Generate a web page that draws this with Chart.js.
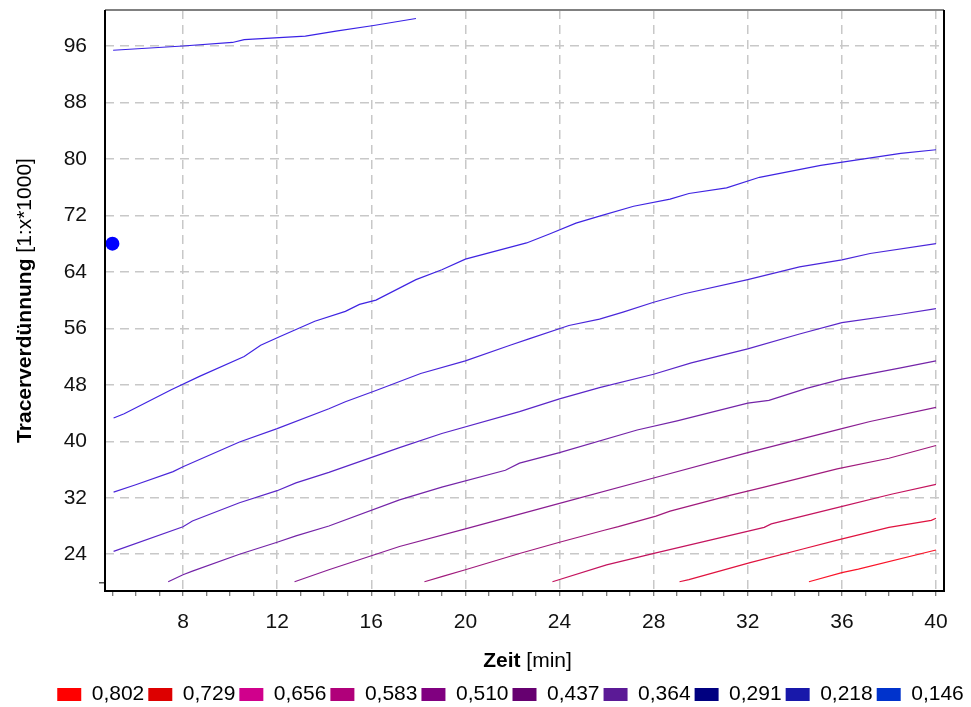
<!DOCTYPE html>
<html>
<head>
<meta charset="utf-8">
<script src="https://cdn.jsdelivr.net/npm/chart.js@4/dist/chart.umd.min.js"></script>
<style>
  body { margin: 0; background: #fff; }
  #wrap { width: 971px; height: 707px; }
</style>
</head>
<body>
<div id="wrap"><canvas id="chart" width="971" height="707"></canvas></div>
<script>
// Linien (Zeit [min], Tracerverdünnung), von oben nach unten
const linie1 = [[5.03, 95.4], [8, 96.0], [10.1, 96.5], [10.6, 96.9], [13.2, 97.4], [14.5, 98.1], [16.1, 98.9], [17.9, 99.9]];
const linie2 = [[5.05, 43.3], [5.5, 43.9], [6.5, 45.6], [7.5, 47.3], [8.7, 49.2], [10.6, 52.0], [11.3, 53.6], [12.1, 54.8], [13.6, 57.0], [14.9, 58.4], [15.5, 59.4], [16.2, 60.0], [17.9, 62.9], [19, 64.3], [20, 65.8], [22.6, 68.1], [23.6, 69.4], [24.7, 70.9], [25.7, 71.9], [27.15, 73.3], [28.7, 74.3], [29.5, 75.1], [31.1, 75.9], [32.5, 77.4], [35.1, 79.1], [38.5, 80.8], [40, 81.3]];
const linie3 = [[5.05, 32.8], [5.96, 33.8], [7.58, 35.7], [8, 36.4], [10.4, 39.9], [12, 41.8], [14.2, 44.6], [14.9, 45.6], [16.2, 47.2], [18.1, 49.6], [20, 51.4], [21.9, 53.6], [22.7, 54.5], [24.4, 56.4], [25.7, 57.3], [26.7, 58.3], [28, 59.7], [29.3, 60.9], [32, 62.9], [34.2, 64.7], [36, 65.7], [37.2, 66.6], [40, 68.0]];
const linie4 = [[5.05, 24.4], [8, 27.9], [8.4, 28.7], [10.4, 31.3], [12, 33.0], [12.8, 34.1], [14.2, 35.6], [17.2, 39.1], [19.0, 41.1], [22.3, 44.2], [24.0, 46.0], [25.7, 47.6], [28, 49.5], [29.6, 51.1], [32, 53.1], [34.2, 55.2], [36, 56.8], [38.5, 58.0], [40, 58.8]];
const linie5 = [[7.37, 20.1], [8, 21.1], [8.4, 21.6], [10.4, 24.0], [12, 25.7], [12.8, 26.6], [14.2, 28.0], [17.2, 31.7], [19.0, 33.5], [21.7, 35.9], [22.3, 36.9], [24.0, 38.4], [27.3, 41.6], [29.0, 42.9], [32, 45.4], [32.9, 45.8], [34.5, 47.5], [36, 48.8], [38.5, 50.4], [40, 51.4]];
const linie6 = [[12.74, 20.1], [14.2, 21.8], [17.2, 25.1], [20, 27.6], [24, 31.2], [28, 34.8], [32, 38.4], [36, 41.8], [37.2, 42.8], [40, 44.8]];
const linie7 = [[18.26, 20.1], [19.07, 20.9], [20, 21.8], [22.3, 24.1], [24, 25.7], [25.9, 27.4], [26.5, 27.9], [28.1, 29.4], [28.7, 30.1], [31.2, 32.3], [32.7, 33.5], [35.8, 36.1], [38, 37.6], [40, 39.4]];
const linie8 = [[23.7, 20.1], [26, 22.5], [27.75, 23.9], [28.1, 24.2], [30.4, 26.0], [32.7, 27.8], [33, 28.3], [35.8, 30.6], [38.1, 32.5], [40, 33.9]];
const linie9 = [[29.1, 20.1], [29.5, 20.4], [32.1, 22.8], [34.3, 24.7], [35.8, 26.0], [38, 27.8], [39.8, 28.8], [40, 29.1]];
const linie10 = [[34.6, 20.1], [36, 21.4], [36.7, 21.9], [40, 24.6]];
const messpunkt = [[5.0, 68.0]];

const linien = [linie1, linie2, linie3, linie4, linie5, linie6, linie7, linie8, linie9, linie10];
const linienFarben = ["#3a22e6", "#3f24e2", "#4a26da", "#5a26c8", "#7424a8", "#8a1e92", "#a01a7c", "#c4145e", "#e0123e", "#fa1428"];

// Legende
const legendeWerte = ["0,802", "0,729", "0,656", "0,583", "0,510", "0,437", "0,364", "0,291", "0,218", "0,146"];
const legendeFarben = ["#ff0000", "#dd0000", "#d0008c", "#b0007a", "#800080", "#660070", "#5b1a96", "#000080", "#1818aa", "#0033cc"];

// Achsen
const xTicks = [5, 6, 7, 8, 9, 10, 11, 12, 13, 14, 15, 16, 17, 18, 19, 20, 21, 22, 23, 24, 25, 26, 27, 28, 29, 30, 31, 32, 33, 34, 35, 36, 37, 38, 39, 40];
const yTicks = [20, 24, 32, 40, 48, 56, 64, 72, 80, 88, 96];

Chart.defaults.font.family = "'Liberation Sans', Arial, sans-serif";
Chart.defaults.color = "#111";

const toXY = (arr) => arr.map((p) => ({ x: p[0], y: p[1] }));

// Achsentitel mit fettem und normalem Teil, dazu der Rahmen
const rahmenUndTitel = {
  id: "rahmenUndTitel",
  afterDraw(chart) {
    const { ctx, chartArea: a } = chart;
    ctx.save();
    // Rahmen
    ctx.lineWidth = 2;
    ctx.strokeStyle = "#808080";
    ctx.beginPath(); ctx.moveTo(a.left, a.top); ctx.lineTo(a.right, a.top); ctx.stroke();
    ctx.strokeStyle = "#000";
    ctx.beginPath();
    ctx.moveTo(a.left, a.top); ctx.lineTo(a.left, a.bottom); ctx.lineTo(a.right, a.bottom); ctx.lineTo(a.right, a.top);
    ctx.stroke();

    const mixed = (fett, normal, cx, cy) => {
      ctx.font = "bold 21px 'Liberation Sans', Arial, sans-serif";
      const w1 = ctx.measureText(fett).width;
      ctx.font = "21px 'Liberation Sans', Arial, sans-serif";
      const w2 = ctx.measureText(normal).width;
      const x0 = cx - (w1 + w2) / 2;
      ctx.fillStyle = "#000";
      ctx.textBaseline = "middle";
      ctx.textAlign = "left";
      ctx.font = "bold 21px 'Liberation Sans', Arial, sans-serif";
      ctx.fillText(fett, x0, cy);
      ctx.font = "21px 'Liberation Sans', Arial, sans-serif";
      ctx.fillText(normal, x0 + w1, cy);
    };
    mixed("Zeit", " [min]", (a.left + a.right) / 2 + 3, 661);
    ctx.translate(25, (a.top + a.bottom) / 2);
    ctx.rotate(-Math.PI / 2);
    mixed("Tracerverdünnung", " [1:x*1000]", 0, 0);
    ctx.restore();
  }
};

const datasets = linien.map((l, i) => ({
  data: toXY(l),
  showLine: true,
  borderColor: linienFarben[i],
  borderWidth: 1.2,
  pointRadius: 0,
  tension: 0
}));
datasets.push({
  data: toXY(messpunkt),
  showLine: false,
  pointRadius: 7,
  pointBackgroundColor: "#0000ff",
  pointBorderColor: "#0000ff",
  pointBorderWidth: 0
});

new Chart(document.getElementById("chart"), {
  type: "scatter",
  data: { datasets },
  options: {
    responsive: false,
    animation: false,
    layout: { padding: { left: 50, right: 0, top: 10, bottom: -8 } },
    plugins: {
      tooltip: { enabled: false },
      legend: {
        position: "bottom",
        onClick: null,
        labels: {
          boxWidth: 24,
          boxHeight: 13,
          padding: 4,
          color: "#000",
          font: { size: 21 },
          generateLabels: () => legendeWerte.map((t, i) => ({
            text: t,
            fillStyle: legendeFarben[i],
            strokeStyle: legendeFarben[i],
            lineWidth: 0,
            hidden: false,
            datasetIndex: i
          }))
        }
      }
    },
    scales: {
      x: {
        type: "linear",
        min: 4.685,
        max: 40.34,
        afterBuildTicks: (axis) => { axis.ticks = xTicks.map((v) => ({ value: v })); },
        afterFit: (axis) => { axis.height = 89; axis.paddingLeft = 0; axis.paddingRight = 0; },
        border: { display: false, dash: [9, 6] },
        grid: {
          color: (c) => (c.tick && c.tick.value % 4 === 0 ? "#c8c8c8" : "rgba(0,0,0,0)"),
          lineWidth: 1.5,
          drawTicks: true,
          tickLength: 5,
          tickColor: "#555",
          tickWidth: 1,
          tickBorderDash: []
        },
        ticks: {
          autoSkip: false,
          maxRotation: 0,
          padding: 14,
          color: "#111",
          font: { size: 21 },
          callback: (v) => (v % 4 === 0 ? String(v) : "")
        }
      },
      y: {
        type: "linear",
        min: 18.79,
        max: 101.1,
        afterBuildTicks: (axis) => { axis.ticks = yTicks.map((v) => ({ value: v })); },
        afterFit: (axis) => { axis.width = 55; axis.paddingTop = 0; axis.paddingBottom = 0; },
        border: { display: false, dash: [9, 6] },
        grid: {
          color: (c) => (c.tick && c.tick.value === 20 ? "rgba(0,0,0,0)" : "#c8c8c8"),
          lineWidth: 1.5,
          drawTicks: true,
          tickLength: 6,
          tickColor: (c) => (c.tick && c.tick.value === 20 ? "#555" : "rgba(0,0,0,0)"),
          tickBorderDash: []
        },
        ticks: {
          autoSkip: false,
          padding: 12,
          color: "#111",
          font: { size: 21 },
          callback: (v) => (v >= 24 ? String(v) : "")
        }
      },
      rechts: {
        type: "linear",
        position: "right",
        display: true,
        afterFit: (axis) => { axis.width = 27; axis.paddingTop = 0; axis.paddingBottom = 0; },
        border: { display: false },
        grid: { display: false, drawTicks: false },
        ticks: { display: false }
      }
    }
  },
  plugins: [rahmenUndTitel]
});
</script>
</body>
</html>
